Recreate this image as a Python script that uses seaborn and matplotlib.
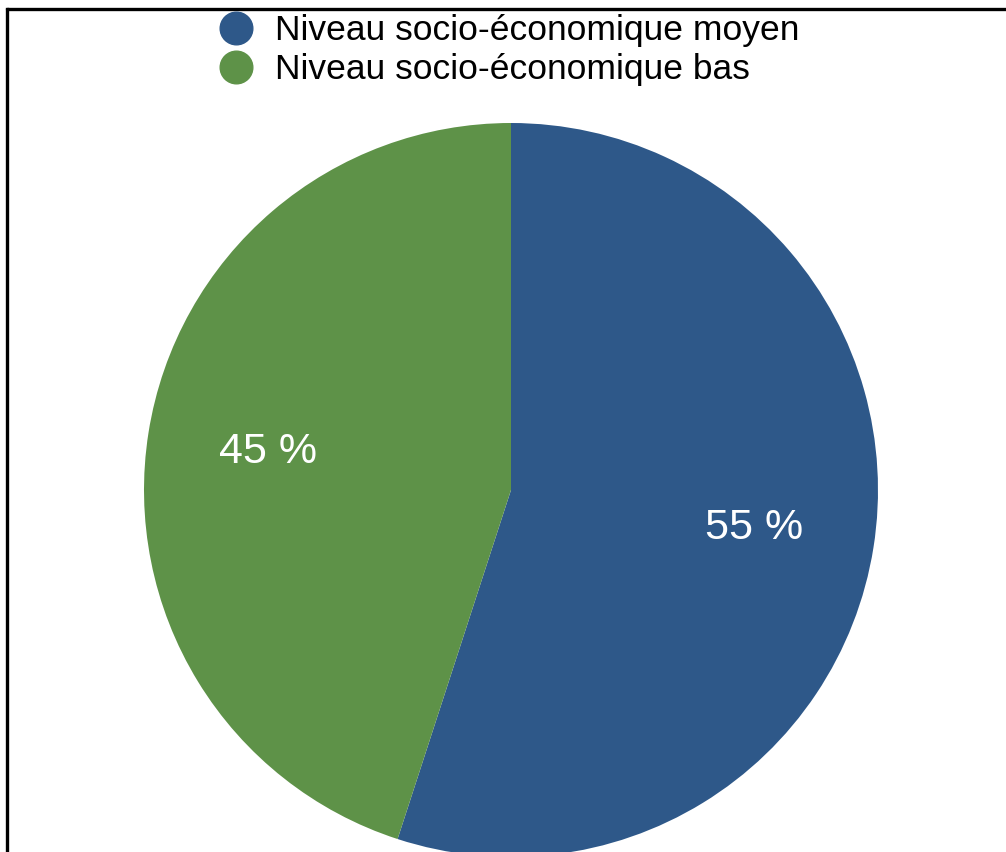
import matplotlib
matplotlib.use("Agg")
import matplotlib.pyplot as plt
from matplotlib.lines import Line2D
import seaborn as sns

categories = ["Niveau socio-économique moyen", "Niveau socio-économique bas"]
shares = [55, 45]
colors = ["#2E5889", "#5E9248"]

sns.set_theme(style="white")
plt.rcParams["font.family"] = ["Liberation Sans", "DejaVu Sans"]
plt.rcParams["text.color"] = "black"

W, H = 1006, 852
fig = plt.figure(figsize=(W / 100, H / 100), dpi=100)
fig.patch.set_facecolor("white")

# pie area: 734 px square, centred at (511, 490) from top-left
D = 734
cx, cy = 511, 490
ax = fig.add_axes([(cx - D / 2) / W, (H - cy - D / 2) / H, D / W, D / H])
wedges, _, autotexts = ax.pie(
    shares,
    colors=colors,
    startangle=90,
    counterclock=False,
    autopct=lambda p: f"{p:.0f} %",
    pctdistance=0.67,
    radius=1.0,
    wedgeprops=dict(linewidth=0, antialiased=True),
    textprops=dict(color="white", fontsize=31),
)
ax.set_xlim(-1, 1)
ax.set_ylim(-1, 1)
ax.set_aspect("equal")
ax.axis("off")
ax.patch.set_visible(False)

handles = [
    Line2D([], [], linestyle="none", marker="o", markersize=23.5,
           markerfacecolor=c, markeredgecolor=c)
    for c in colors
]
leg = fig.legend(
    handles, categories,
    loc="upper left",
    bbox_to_anchor=(218 / W, 1 - 14 / H),
    frameon=False,
    fontsize=25.5,
    handlelength=1.0,
    handletextpad=0.6,
    labelspacing=0.18,
    borderpad=0.0,
    borderaxespad=0,
)
for t in leg.get_texts():
    t.set_color("black")

# frame lines along the top and left edges
fig.add_artist(Line2D([7 / W, 1], [1 - 9 / H, 1 - 9 / H], color="black",
                      linewidth=2.4, transform=fig.transFigure))
fig.add_artist(Line2D([7 / W, 7 / W], [0, 1 - 9 / H], color="black",
                      linewidth=2.4, transform=fig.transFigure,
                      solid_capstyle="projecting"))

fig.savefig("out.png", dpi=100)
